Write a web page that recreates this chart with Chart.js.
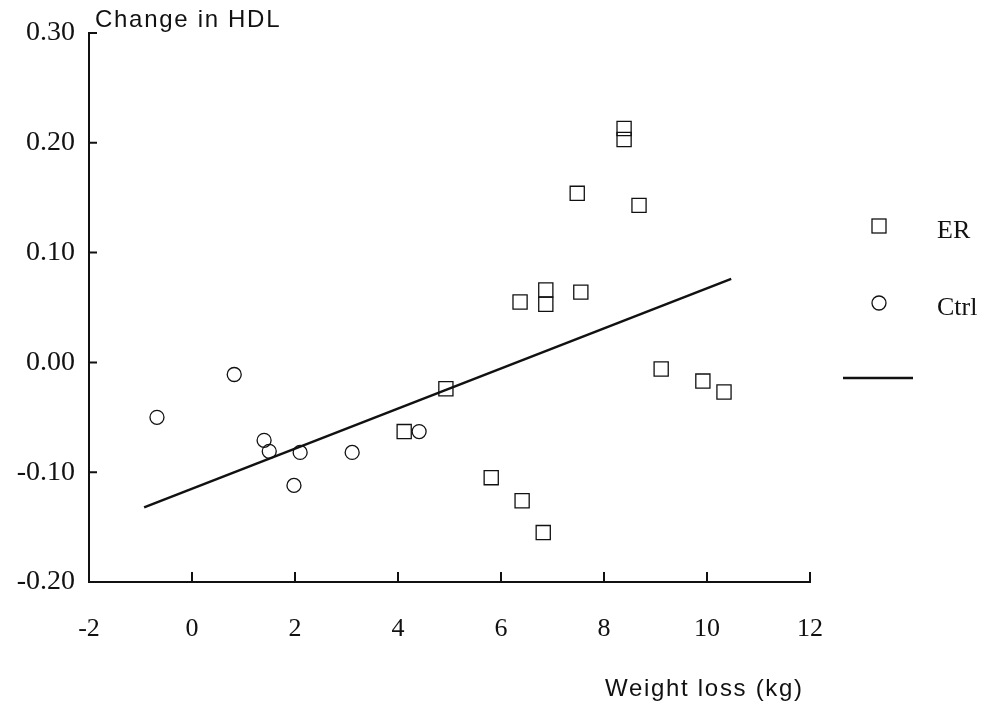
<!DOCTYPE html>
<html lang="en">
<head>
<meta charset="UTF-8">
<title>Change in HDL vs weight loss</title>
<script src="https://cdn.jsdelivr.net/npm/chart.js@4.4.0/dist/chart.umd.min.js"></script>
<style>
  html, body { margin: 0; padding: 0; background: #fff; }
  #wrap { width: 985px; height: 709px; }
</style>
</head>
<body>
<div id="wrap"><canvas id="hdl"></canvas></div>
<script>
// values
const erWeightLoss = [4.12, 4.93, 5.81, 6.41, 6.82, 6.37, 6.87, 6.87, 7.55, 7.48, 8.39, 8.39, 8.68, 9.11, 9.92, 10.33];
const erHdlChange  = [-0.063, -0.024, -0.105, -0.126, -0.155, 0.055, 0.066, 0.053, 0.064, 0.154, 0.213, 0.203, 0.143, -0.006, -0.017, -0.027];

const ctrlWeightLoss = [-0.68, 0.82, 1.40, 1.50, 2.10, 1.98, 3.11, 4.41];
const ctrlHdlChange  = [-0.050, -0.011, -0.071, -0.081, -0.082, -0.112, -0.082, -0.063];

const fitWeightLoss = [-0.93, 10.47];
const fitHdlChange  = [-0.132, 0.076];

const xTicks = [-2, 0, 2, 4, 6, 8, 10, 12];
const yTicks = [-0.2, -0.1, 0.0, 0.1, 0.2, 0.3];

const toPoints = (xs, ys) => xs.map((x, i) => ({ x: x, y: ys[i] }));

const ink = '#111';
const serif = '"Liberation Serif", "Times New Roman", serif';

// inward tick marks, axis titles and the legend
const decorations = {
  id: 'decorations',
  afterDraw(chart) {
    const ctx = chart.ctx;
    const xs = chart.scales.x, ys = chart.scales.y;
    const a = chart.chartArea;
    ctx.save();
    ctx.strokeStyle = ink;
    ctx.lineWidth = 2;
    ctx.beginPath();
    yTicks.forEach(v => {
      if (v === yTicks[0]) return;
      const py = ys.getPixelForValue(v);
      ctx.moveTo(a.left, py);
      ctx.lineTo(a.left + 8, py);
    });
    xTicks.forEach(v => {
      if (v === xTicks[0]) return;
      const px = xs.getPixelForValue(v);
      ctx.moveTo(px, a.bottom);
      ctx.lineTo(px, a.bottom - 10);
    });
    ctx.stroke();

    // axis titles
    ctx.fillStyle = ink;
    ctx.letterSpacing = '1.7px';
    ctx.font = '24px "Liberation Sans", Arial, sans-serif';
    ctx.textAlign = 'left';
    ctx.textBaseline = 'alphabetic';
    ctx.fillText('Change in HDL', a.left + 6, 27);
    ctx.fillText('Weight loss (kg)', 605, 696);
    ctx.letterSpacing = '0px';

    // legend
    const lx = 879;
    ctx.lineWidth = 1.3;
    ctx.strokeRect(lx - 7, 219, 14, 14);
    ctx.beginPath();
    ctx.arc(lx, 303, 7, 0, Math.PI * 2);
    ctx.stroke();
    ctx.lineWidth = 2.5;
    ctx.beginPath();
    ctx.moveTo(843, 378);
    ctx.lineTo(913, 378);
    ctx.stroke();
    ctx.font = '26px ' + serif;
    chart.data.datasets.forEach((ds, i) => {
      if (!ds.label) return;
      ctx.fillText(ds.label, 937, i === 0 ? 238 : 315);
    });
    ctx.restore();
  }
};

new Chart(document.getElementById('hdl'), {
  type: 'scatter',
  data: {
    datasets: [
      {
        label: 'ER',
        data: toPoints(erWeightLoss, erHdlChange),
        pointStyle: 'rect',
        pointRadius: 10,
        pointBorderWidth: 1.3,
        borderColor: ink,
        backgroundColor: 'rgba(0,0,0,0)'
      },
      {
        label: 'Ctrl',
        data: toPoints(ctrlWeightLoss, ctrlHdlChange),
        pointStyle: 'circle',
        pointRadius: 7,
        pointBorderWidth: 1.3,
        borderColor: ink,
        backgroundColor: 'rgba(0,0,0,0)'
      },
      {
        type: 'line',
        label: '',
        data: toPoints(fitWeightLoss, fitHdlChange),
        borderColor: ink,
        borderWidth: 2.5,
        pointRadius: 0,
        fill: false
      }
    ]
  },
  options: {
    responsive: true,
    maintainAspectRatio: false,
    animation: false,
    layout: { padding: { top: 33, right: 175, left: 0, bottom: 0 } },
    plugins: {
      legend: { display: false },
      tooltip: { enabled: false }
    },
    scales: {
      x: {
        type: 'linear',
        min: -2,
        max: 12,
        afterFit(scale) { scale.height = 127; },
        afterBuildTicks(scale) { scale.ticks = xTicks.map(v => ({ value: v })); },
        grid: { display: true, drawOnChartArea: false, drawTicks: false },
        border: { display: true, color: ink, width: 2 },
        ticks: {
          padding: 32,
          color: ink,
          font: { family: serif, size: 26 },
          callback: v => String(v)
        }
      },
      y: {
        type: 'linear',
        min: -0.2,
        max: 0.3,
        afterFit(scale) { scale.width = 89; },
        afterBuildTicks(scale) { scale.ticks = yTicks.map(v => ({ value: v })); },
        grid: { display: true, drawOnChartArea: false, drawTicks: false },
        border: { display: true, color: ink, width: 2 },
        ticks: {
          padding: 14,
          color: ink,
          font: { family: serif, size: 28 },
          callback: v => Number(v).toFixed(2)
        }
      }
    }
  },
  plugins: [decorations]
});
</script>
</body>
</html>
